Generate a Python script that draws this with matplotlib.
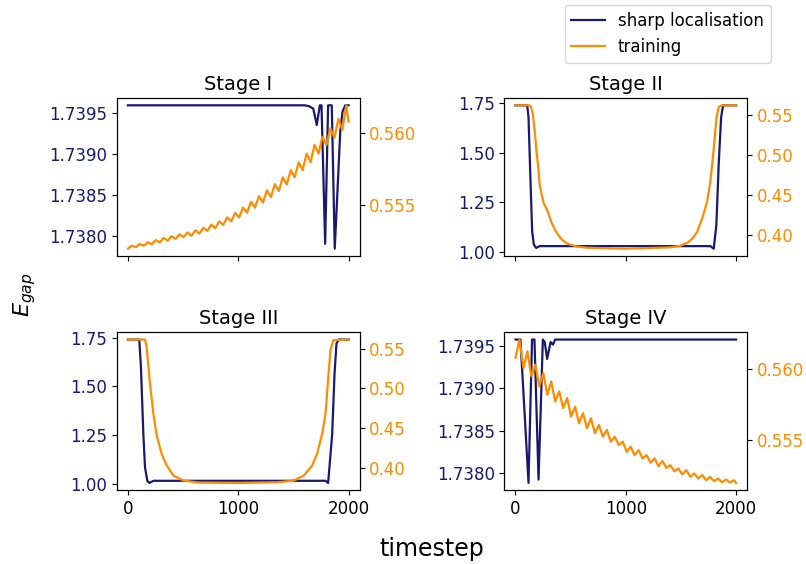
import matplotlib
matplotlib.use('Agg')
import matplotlib.pyplot as plt
from matplotlib.ticker import FormatStrFormatter

navy = 'midnightblue'
orange = 'darkorange'

# Stage I
s1_t_sharp = [0, 1600, 1640, 1680, 1712, 1740, 1755, 1788, 1815, 1848, 1875, 1925, 1945, 1970, 2000]
s1_sharp = [1.73959, 1.73959, 1.73958, 1.73955, 1.73935, 1.73959, 1.73959, 1.73790, 1.73959,
            1.73959, 1.73784, 1.73927, 1.73951, 1.73959, 1.73959]
s1_t_train = list(range(0, 1981, 36)) + [2000]
s1_train = [0.55195, 0.55216, 0.55205, 0.55228, 0.55215, 0.55240, 0.55226, 0.55255, 0.55238, 0.55270,
            0.55250, 0.55282, 0.55263, 0.55295, 0.55275, 0.55308, 0.55285, 0.55323, 0.55300, 0.55340,
            0.55318, 0.55362, 0.55338, 0.55385, 0.55360, 0.55412, 0.55385, 0.55443, 0.55412, 0.55480,
            0.55445, 0.55520, 0.55480, 0.55560, 0.55515, 0.55600, 0.55552, 0.55643, 0.55595, 0.55690,
            0.55640, 0.55740, 0.55690, 0.55795, 0.55740, 0.55855, 0.55795, 0.55915, 0.55855, 0.55972,
            0.55915, 0.56030, 0.55965, 0.56095, 0.56020, 0.56190, 0.56077]

# Stage II
s2_t_sharp = [0, 106, 118, 136, 151, 166, 188, 218, 1766, 1797, 1821, 1842, 1864, 1882, 2000]
s2_sharp = [1.7396, 1.7396, 1.679, 1.358, 1.104, 1.036, 1.019, 1.028, 1.028, 1.015, 1.137,
            1.442, 1.679, 1.7396, 1.7396]
s2_t_train = [0, 125, 140, 160, 175, 190, 205, 220, 235, 255, 295, 325, 370, 415, 470, 560, 650,
              1000, 1403, 1494, 1555, 1600, 1645, 1691, 1736, 1766, 1797, 1821, 1842, 1873, 2000]
s2_train = [0.5616, 0.5616, 0.5600, 0.5480, 0.5280, 0.5050, 0.4860, 0.4620, 0.4520, 0.4400,
            0.4284, 0.4159, 0.4034, 0.3950, 0.3890, 0.3855, 0.3841, 0.3829, 0.3846, 0.3866,
            0.3900, 0.3950, 0.4034, 0.4200, 0.4409, 0.4659, 0.5075, 0.5450, 0.5596, 0.5616, 0.5616]

# Stage III
s3_t_sharp = [0, 103, 118, 140, 155, 176, 194, 231, 1791, 1815, 1852, 1873, 1891, 1912, 2000]
s3_sharp = [1.7396, 1.7396, 1.601, 1.258, 1.087, 1.018, 1.007, 1.018, 1.018, 1.007, 1.258,
            1.566, 1.720, 1.7396, 1.7396]
s3_t_train = [0, 155, 170, 200, 231, 261, 306, 352, 413, 504, 655, 1000, 1352, 1503, 1594,
              1670, 1715, 1761, 1791, 1812, 1836, 1861, 2000]
s3_train = [0.5617, 0.5617, 0.5524, 0.5060, 0.4680, 0.4405, 0.4173, 0.4025, 0.3899, 0.3835,
            0.3810, 0.3806, 0.3815, 0.3835, 0.3899, 0.4025, 0.4173, 0.4427, 0.4680, 0.5060,
            0.5481, 0.5608, 0.5617]

# Stage IV
s4_t_sharp = [0, 45, 118, 150, 172, 209, 248, 265, 287, 318, 340, 360, 2000]
s4_sharp = [1.73958, 1.73958, 1.73788, 1.73958, 1.73958, 1.73792, 1.73958, 1.73955, 1.73935,
            1.73955, 1.73952, 1.73958, 1.73958]
s4_t_train = list(range(0, 1981, 36)) + [2000]
s4_train = [0.56076, 0.56205, 0.56005, 0.56122, 0.55946, 0.56028, 0.55875, 0.55970, 0.55816, 0.55910,
            0.55769, 0.55840, 0.55722, 0.55793, 0.55663, 0.55733, 0.55616, 0.55687, 0.55581, 0.55651,
            0.55546, 0.55604, 0.55521, 0.55569, 0.55486, 0.55521, 0.55463, 0.55486, 0.55415, 0.55451,
            0.55392, 0.55427, 0.55369, 0.55392, 0.55338, 0.55369, 0.55314, 0.55350, 0.55302, 0.55321,
            0.55279, 0.55298, 0.55256, 0.55286, 0.55239, 0.55263, 0.55227, 0.55251, 0.55215, 0.55239,
            0.55208, 0.55227, 0.55201, 0.55220, 0.55199, 0.55215, 0.55196]

titles = ['Stage I', 'Stage II', 'Stage III', 'Stage IV']
x_ticks = [0, 1000, 2000]
fine_left = [1.7380, 1.7385, 1.7390, 1.7395]
fine_right = [0.555, 0.560]
coarse_left = [1.00, 1.25, 1.50, 1.75]
coarse_right = [0.40, 0.45, 0.50, 0.55]

fig, axes = plt.subplots(2, 2, figsize=(8.06, 5.64), dpi=100, sharex=True)
fig.subplots_adjust(left=0.145, right=0.927, top=0.826, bottom=0.131, wspace=0.597, hspace=0.485)


def draw(ax, title, ts, sharp, tt, train, lticks, rticks, lfmt, rfmt):
    l1, = ax.plot(ts, sharp, color=navy, lw=1.6, solid_joinstyle='round', label='sharp localisation')
    ax.set_yticks(lticks)
    ax.yaxis.set_major_formatter(FormatStrFormatter(lfmt))
    ax.tick_params(axis='y', labelcolor=navy, labelsize=12)
    ax.tick_params(axis='x', labelsize=12)
    ax.set_title(title, fontsize=14)
    ax2 = ax.twinx()
    l2, = ax2.plot(tt, train, color=orange, lw=1.6, solid_joinstyle='round', label='training')
    ax2.set_yticks(rticks)
    ax2.yaxis.set_major_formatter(FormatStrFormatter(rfmt))
    ax2.tick_params(axis='y', labelcolor=orange, labelsize=12)
    ax.set_xticks(x_ticks)
    return l1, l2


l1, l2 = draw(axes[0, 0], titles[0], s1_t_sharp, s1_sharp, s1_t_train, s1_train,
              fine_left, fine_right, '%.4f', '%.3f')
draw(axes[0, 1], titles[1], s2_t_sharp, s2_sharp, s2_t_train, s2_train,
     coarse_left, coarse_right, '%.2f', '%.2f')
draw(axes[1, 0], titles[2], s3_t_sharp, s3_sharp, s3_t_train, s3_train,
     coarse_left, coarse_right, '%.2f', '%.2f')
draw(axes[1, 1], titles[3], s4_t_sharp, s4_sharp, s4_t_train, s4_train,
     fine_left, fine_right, '%.4f', '%.3f')

fig.legend(handles=[l1, l2], loc='upper right', bbox_to_anchor=(0.956, 0.991),
           borderaxespad=0, fontsize=12)
fig.text(0.536, 0.005, 'timestep', ha='center', va='bottom', fontsize=17)
fig.text(0.03, 0.477, '$E_{gap}$', rotation=90, ha='center', va='center', fontsize=16)

fig.savefig('out.png', dpi=100)
